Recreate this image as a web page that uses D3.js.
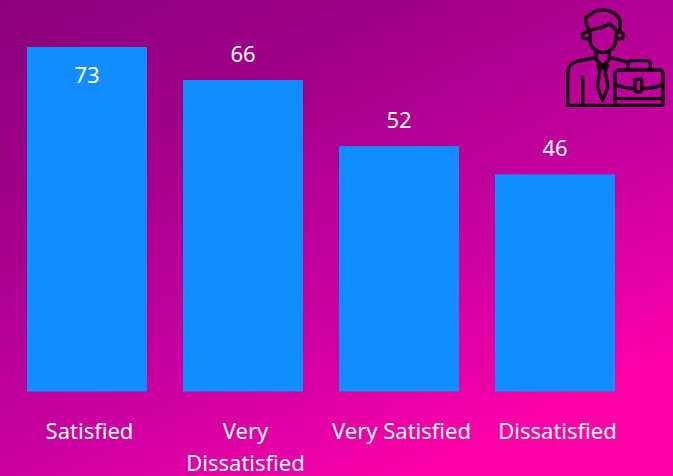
<!DOCTYPE html>
<html>
<head>
<meta charset="utf-8">
<script src="https://d3js.org/d3.v7.min.js"></script>
<style>
  html, body { margin: 0; padding: 0; overflow: hidden; }
  text { font-family: "Noto Sans", sans-serif; fill: #fff; }
</style>
</head>
<body>
<svg></svg>
<script>
const categories = ["Satisfied", "Very Dissatisfied", "Very Satisfied", "Dissatisfied"];
const values = [73, 66, 52, 46];
// lines of each category label, as wrapped in the picture
const labelLines = [["Satisfied"], ["Very", "Dissatisfied"], ["Very Satisfied"], ["Dissatisfied"]];

const w = 673;
const h = 476;
const svg = d3.select("svg").attr("width", w).attr("height", h).style("display", "block");

// background gradient
const grad = svg.append("defs").append("linearGradient")
  .attr("id", "bg")
  .attr("gradientUnits", "userSpaceOnUse")
  .attr("x1", 0).attr("y1", 0)
  .attr("x2", 306).attr("y2", 650);
grad.append("stop").attr("offset", 0).attr("stop-color", "#8a007c");
grad.append("stop").attr("offset", 0.296).attr("stop-color", "#a4008a");
grad.append("stop").attr("offset", 0.57).attr("stop-color", "#c800a0");
grad.append("stop").attr("offset", 0.763).attr("stop-color", "#ea00a6");
grad.append("stop").attr("offset", 0.844).attr("stop-color", "#ff00a8");
grad.append("stop").attr("offset", 1).attr("stop-color", "#ff00a8");
svg.append("rect").attr("width", w).attr("height", h).attr("fill", "url(#bg)");

const xScale = d3.scaleBand()
  .domain(categories)
  .range([9, 633])
  .paddingInner(36 / 156)
  .paddingOuter(18 / 156);

const yScale = d3.scaleLinear()
  .domain([0, 73])
  .range([391.5, 47]);

// bars
svg.selectAll(".bar")
  .data(categories)
  .enter()
  .append("rect")
  .attr("class", "bar")
  .attr("x", d => xScale(d))
  .attr("y", (d, i) => yScale(values[i]))
  .attr("width", xScale.bandwidth())
  .attr("height", (d, i) => yScale(0) - yScale(values[i]))
  .attr("fill", "#118dff");

// value labels, the tallest bar keeps its label inside
svg.selectAll(".value")
  .data(values)
  .enter()
  .append("text")
  .attr("class", "value")
  .attr("x", (d, i) => xScale(categories[i]) + xScale.bandwidth() / 2)
  .attr("y", d => d === 73 ? yScale(d) + 36 : yScale(d) - 18)
  .attr("text-anchor", "middle")
  .style("font-size", "22px")
  .text(d => d);

// category labels
const catLabels = svg.selectAll(".cat")
  .data(categories)
  .enter()
  .append("text")
  .attr("class", "cat")
  .attr("text-anchor", "middle")
  .style("font-size", "22px");
catLabels.each(function(d, i) {
  d3.select(this).selectAll("tspan")
    .data(labelLines[i])
    .enter()
    .append("tspan")
    .attr("x", xScale(d) + xScale.bandwidth() / 2 + 2.5)
    .attr("y", (l, j) => 439 + j * 32)
    .text(l => l);
});

// businessman icon
const icon = svg.append("g")
  .attr("transform", "translate(540, 0) scale(0.3333)")
  .attr("fill", "none")
  .attr("stroke", "#14000f")
  .attr("stroke-width", 10)
  .attr("stroke-linejoin", "round")
  .attr("stroke-linecap", "round");
// hair
icon.append("path").attr("d", "M150 92 C132 70 132 48 152 44 C165 28 205 25 225 42 C245 55 245 85 232 98 C225 85 215 72 205 72 C190 85 165 85 150 92 Z");
// face
icon.append("path").attr("d", "M150 92 L150 122 C152 145 172 158 188 158 C205 158 226 145 228 120 L230 95");
// ears
icon.append("path").attr("d", "M148 96 C132 94 122 105 130 114 C135 118 142 117 148 115");
icon.append("path").attr("d", "M232 96 C246 92 256 105 248 114 C244 118 238 117 231 115");
// neck and collar
icon.append("path").attr("d", "M168 152 L168 178 L188 198 L208 178 L208 152");
// tie
icon.append("path").attr("d", "M173 195 L180 215 L172 260 L188 302 L204 260 L196 215 L203 195 L188 205 Z");
// suit
icon.append("path").attr("d", "M168 172 L115 183 C95 188 83 200 83 222 L83 316 L222 316");
icon.append("path").attr("d", "M208 172 L262 186");
icon.append("path").attr("d", "M128 232 L128 314");
// briefcase
icon.append("path").attr("d", "M225 222 C225 214 232 210 238 210 L358 210 C365 210 369 215 369 222 L369 312 C369 315 367 316 364 316 L230 316 C227 316 225 315 225 312 Z");
icon.append("path").attr("d", "M225 250 C235 262 270 266 285 266 M305 266 C325 266 358 262 369 250");
icon.append("path").attr("d", "M226 296 L368 296");
icon.append("path").attr("d", "M264 208 L264 192 C264 185 270 182 276 182 L320 182 C327 182 331 186 331 192 L331 208");
icon.append("path").attr("d", "M285 238 L305 238 L305 270 C305 278 285 278 285 270 Z");
</script>
</body>
</html>
